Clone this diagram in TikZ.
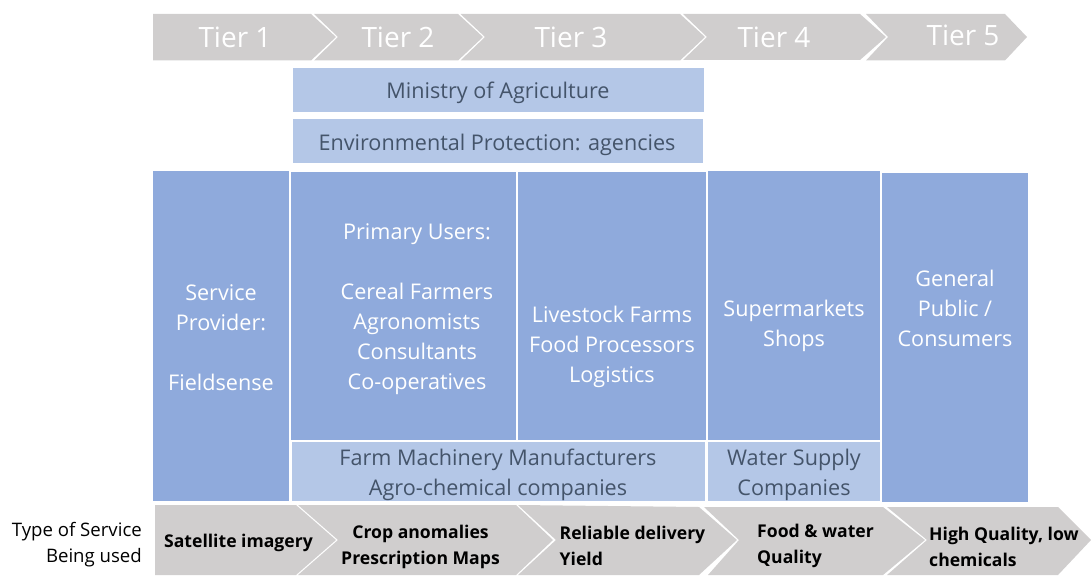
\documentclass[tikz,border=0pt]{standalone}
\usepackage{fontspec}
\setmainfont{Open Sans}
\definecolor{greyc}{HTML}{D0CECE}
\definecolor{midb}{HTML}{8FAADC}
\definecolor{lightb}{HTML}{B4C7E7}
\definecolor{slate}{HTML}{44546A}
\tikzset{
  chev/.style={fill=greyc,draw=none},
  midbox/.style={fill=midb,draw=none},
  lightbox/.style={fill=lightb,draw=none},
  tier/.style={text=white,font=\fontsize{28}{30}\selectfont,inner sep=0pt},
  midtxt/.style={text=white,align=center,font=\fontsize{21.6}{30}\selectfont,inner sep=0pt},
  lighttxt/.style={text=slate,align=center,font=\fontsize{21.6}{30}\selectfont,inner sep=0pt},
  service/.style={text=black,font=\fontsize{17.6}{25.5}\selectfont\bfseries,inner sep=0pt},
  side/.style={text=black,align=right,font=\fontsize{18.6}{25.5}\selectfont,inner sep=0pt}
}
\begin{document}
\begin{tikzpicture}[x=1pt,y=-1pt]
\useasboundingbox (0,0) rectangle (1091,575);
% top chevrons
\fill[chev] (153,14) -- (311,14) -- (336,37) -- (311,60.5) -- (153,60.5) -- cycle;
\fill[chev] (314,14) -- (458,14) -- (483,37) -- (458,60.5) -- (314,60.5) -- (338,37) -- cycle;
\fill[chev] (460.5,14) -- (680,14) -- (705,37) -- (680,60.5) -- (460.5,60.5) -- (485,37) -- cycle;
\fill[chev] (683,14) -- (860,14) -- (886,37) -- (860,60) -- (683,60) -- (707,37) -- cycle;
\fill[chev] (866,14) -- (1005,14) -- (1027,37) -- (1005,60.5) -- (866,60.5) -- (888,37) -- cycle;
\node[tier] (t1) at (235,37) {Tier 1};
\node[tier] (t2) at (398,37) {Tier 2};
\node[tier] (t3) at (571,37) {Tier 3};
\node[tier] (t4) at (774,37) {Tier 4};
\node[tier] (t5) at (963,35) {Tier 5};
% bands
\fill[lightbox] (293,68) rectangle (704,112);
\fill[lightbox] (293,119) rectangle (703,163);
\node[lighttxt] (min) at (498,92.5) {Ministry of Agriculture};
\node[lighttxt] (env) at (497,144.5) {Environmental Protection: agencies};
% main boxes
\fill[midbox] (153,171) rectangle (289,501);
\fill[midbox] (291,172) rectangle (516,440);
\fill[midbox] (518,172) rectangle (706,440);
\fill[midbox] (708,171) rectangle (880,440);
\fill[midbox] (882,173) rectangle (1028,502);
\fill[lightbox] (292,442) rectangle (705,501);
\fill[lightbox] (708,442) rectangle (880,501);
\node[midtxt] (sp) at (221,337.5) {Service\\Provider:\\[30pt]Fieldsense};
\node[midtxt] (pu) at (417,309) {Primary Users:\\[30pt]Cereal Farmers\\Agronomists\\Consultants\\Co-operatives};
\node[midtxt] (lf) at (612,347) {Livestock Farms\\Food Processors\\Logistics};
\node[midtxt] (sm) at (794,326) {Supermarkets\\Shops};
\node[midtxt] (gp) at (955,308) {General\\Public /\\Consumers};
\node[lighttxt] (fm) at (498,475) {Farm Machinery Manufacturers\\Agro-chemical companies};
\node[lighttxt] (ws) at (794,475) {Water Supply\\Companies};
% bottom chevrons
\fill[chev] (155,505) -- (296,505) -- (336,540) -- (296,575) -- (155,575) -- cycle;
\fill[chev] (298,505) -- (516,505) -- (553,540) -- (516,575) -- (298,575) -- (338,540) -- cycle;
\fill[chev] (518,505) -- (699,507) -- (737,540) -- (699,575) -- (518,575) -- (556,540) -- cycle;
\fill[chev] (704,507) -- (883,507) -- (925,540) -- (883,575) -- (708,575) -- (739,540) -- cycle;
\fill[chev] (887,507) -- (1058,507) -- (1091,540) -- (1058,575) -- (887,575) -- (927,540) -- cycle;
\node[side,anchor=east] (ty) at (142,544.5) {Type of Service\\Being used};
\node[service] (s1) at (238.5,543) {Satellite imagery};
\node[service,align=center] (s2) at (420.5,547) {Crop anomalies\\Prescription Maps};
\node[service,align=left,anchor=west] (s3) at (559.5,546) {Reliable delivery\\Yield};
\node[service,align=left,anchor=west] (s4) at (757,546) {Food \& water\\Quality};
\node[service,align=left,anchor=west] (s5) at (929,547) {High Quality, low\\chemicals};
\end{tikzpicture}
\end{document}
